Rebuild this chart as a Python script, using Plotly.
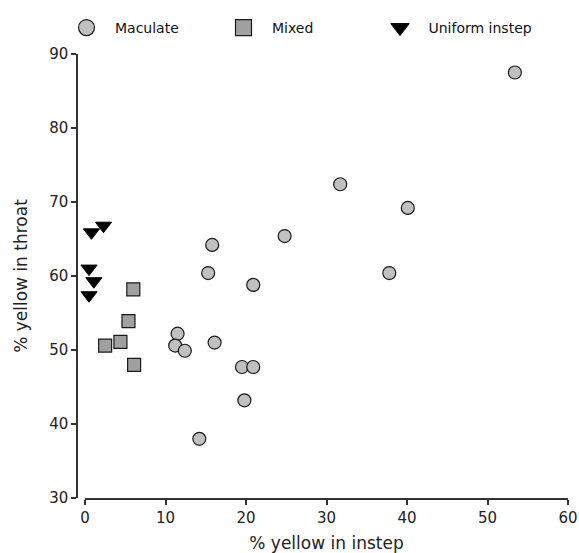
import plotly.graph_objects as go

# Data
mac_x = [53.4, 31.7, 40.1, 24.8, 15.8, 15.3, 37.8, 20.9, 11.5, 11.2, 12.4, 16.1, 19.5, 20.9, 19.8, 14.2]
mac_y = [87.5, 72.4, 69.2, 65.4, 64.2, 60.4, 60.4, 58.8, 52.2, 50.6, 49.9, 51.0, 47.7, 47.7, 43.2, 38.0]
mix_x = [6.0, 5.4, 2.5, 4.4, 6.1]
mix_y = [58.2, 53.9, 50.6, 51.1, 48.0]
uni_x = [0.8, 2.3, 0.5, 1.1, 0.5]
uni_y = [65.9, 66.8, 61.0, 59.3, 57.4]

groups = ["Maculate", "Mixed", "Uniform instep"]
x_ticks = [0, 10, 20, 30, 40, 50, 60]
y_ticks = [30, 40, 50, 60, 70, 80, 90]

W, H = 579, 553
ML, MR, MT, MB = 77, 11, 54, 55
PW = W - ML - MR
PH = H - MT - MB
FONT = "DejaVu Sans, Verdana, sans-serif"

styles = [
    dict(symbol="circle", size=13, color="#c0c0c0", line=dict(color="#1a1a1a", width=1.2)),
    dict(symbol="square", size=13, color="#a0a0a0", line=dict(color="#1a1a1a", width=1.2)),
    dict(symbol="triangle-down", size=14, color="#000000", line=dict(color="#000000", width=1)),
]
data = [(mac_x, mac_y), (mix_x, mix_y), (uni_x, uni_y)]
legend_ids = ["legend", "legend2", "legend3"]
legend_left_px = [58, 215, 371.5]

fig = go.Figure()
for name, (xs, ys), st in zip(groups, data, styles):
    fig.add_trace(go.Scatter(x=xs, y=ys, mode="markers", name=name, marker=st,
                             showlegend=False, cliponaxis=False))
# legend entries with larger symbols, one legend per entry
for name, st, lid in zip(groups, styles, legend_ids):
    big = dict(st)
    big["size"] = 20
    fig.add_trace(go.Scatter(x=[None], y=[None], mode="markers", name=name, marker=big,
                             showlegend=True, legend=lid))

legend_common = dict(orientation="h", xanchor="left", yanchor="top",
                     y=1 + (MT - 12) / PH, itemwidth=47,
                     font=dict(family=FONT, size=14, color="#111111"),
                     bgcolor="rgba(0,0,0,0)", borderwidth=0)

fig.update_layout(
    width=W, height=H,
    margin=dict(l=ML, r=MR, t=MT, b=MB, autoexpand=False),
    paper_bgcolor="white", plot_bgcolor="white",
    font=dict(family=FONT, size=15, color="#222222"),
    showlegend=True,
    xaxis=dict(range=[0, 60], tickvals=x_ticks, ticktext=[str(v) for v in x_ticks],
               showgrid=False, zeroline=False, showline=True, linecolor="#333333",
               linewidth=1.5, ticks="outside", ticklen=5, tickwidth=1.5, tickcolor="#333333",
               title=dict(text="% yellow in instep", font=dict(size=17), standoff=19),
               domain=[8 / PW, 1]),
    yaxis=dict(range=[30, 90], tickvals=y_ticks, ticktext=[str(v) for v in y_ticks],
               showgrid=False, zeroline=False, showline=True, linecolor="#333333",
               linewidth=1.5, ticks="outside", ticklen=5, tickwidth=1.5, tickcolor="#333333",
               anchor="free", position=0,
               title=dict(text="% yellow in throat", font=dict(size=17), standoff=16)),
)
for lid, lx in zip(legend_ids, legend_left_px):
    fig.update_layout({lid: dict(legend_common, x=(lx - ML) / PW)})

fig.write_html("out.html")
